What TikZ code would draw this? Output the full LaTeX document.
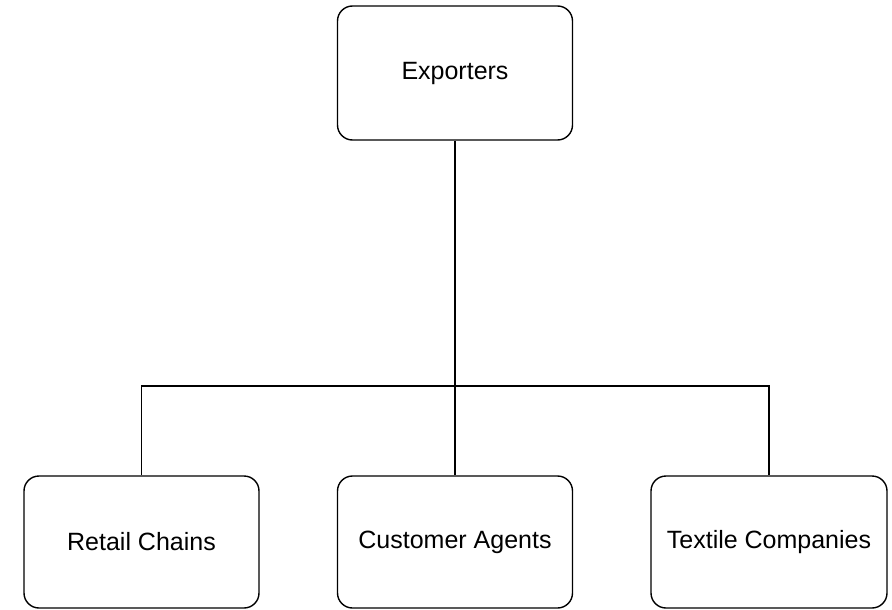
\documentclass[tikz,border=0pt]{standalone}
\usepackage{fontspec}
\setmainfont{Liberation Sans}
\begin{document}
\begin{tikzpicture}[x=1pt,y=-1pt,
  box/.style={draw, line width=1.4pt, rounded corners=15pt, minimum width=235pt, minimum height=134pt, inner sep=0pt, font=\fontsize{25}{30}\selectfont},
  conn/.style={line width=1.4pt}]
\useasboundingbox (0,0) rectangle (892,610);
\node[box] (exp) at (455,73) {Exporters};
\node[box, minimum height=132pt] (retail) at (141.5,542) {Retail Chains};
\node[box, minimum height=132pt] (agents) at (455,542) {Customer Agents};
\node[box, minimum height=132pt, minimum width=236pt] (textile) at (769,542) {Textile Companies};
\coordinate (bus) at (455,386);
\draw[conn] (exp.south) -- (agents.north);
\draw[conn] (retail.north) |- (bus) -| (textile.north);
\end{tikzpicture}
\end{document}
